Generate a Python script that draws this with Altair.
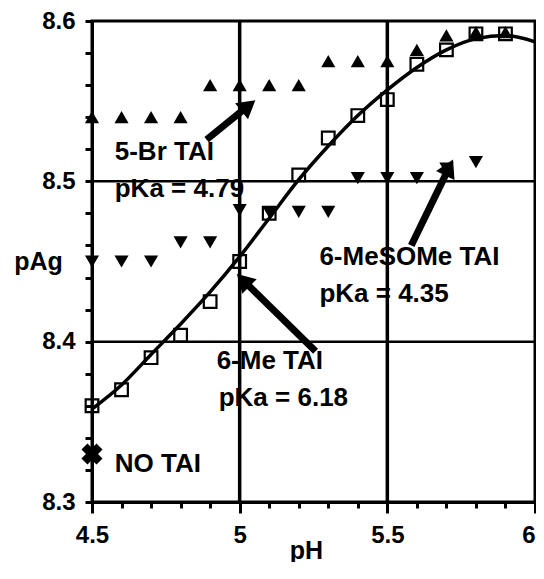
import math
import altair as alt
import pandas as pd

# ---- data ----
ph = [4.5, 4.6, 4.7, 4.8, 4.9, 5.0, 5.1, 5.2, 5.3, 5.4, 5.5, 5.6, 5.7, 5.8, 5.9]
br_tai = [8.54, 8.54, 8.54, 8.54, 8.56, 8.56, 8.56, 8.56, 8.575, 8.575, 8.575, 8.582, 8.591, 8.593, 8.593]
me_tai = [8.36, 8.37, 8.39, 8.404, 8.425, 8.45, 8.48, 8.504, 8.527, 8.541, 8.551, 8.573, 8.582, 8.592, 8.592]

mesome_ph = [4.5, 4.6, 4.7, 4.8, 4.9, 5.0, 5.1, 5.2, 5.3, 5.4, 5.5, 5.6, 5.7, 5.8]
mesome_tai = [8.45, 8.45, 8.45, 8.462, 8.462, 8.482, 8.481, 8.481, 8.481, 8.502, 8.502, 8.502, 8.508, 8.512]

fit_ph = [4.5, 4.6, 4.7, 4.8, 4.9, 5.0, 5.1, 5.2, 5.3, 5.4, 5.5, 5.6, 5.7, 5.8, 5.9, 6.0]
fit_pag = [8.358, 8.373, 8.392, 8.411, 8.431, 8.453, 8.477, 8.501, 8.522, 8.541, 8.557, 8.571, 8.582, 8.589, 8.591, 8.587]

no_tai_ph = [4.5]
no_tai_pag = [8.33]

label_text = ["5-Br TAI", "pKa = 4.79", "6-MeSOMe TAI", "pKa = 4.35", "6-Me TAI", "pKa = 6.18", "NO TAI"]
label_ph = [4.577, 4.577, 5.27, 5.27, 4.922, 4.929, 4.577]
label_pag = [8.518, 8.495, 8.453, 8.430, 8.388, 8.365, 8.324]

arrow_tail_ph = [4.888, 5.581, 5.257]
arrow_tail_pag = [8.526, 8.460, 8.394]
arrow_tip_ph = [5.022, 5.705, 5.019]
arrow_tip_pag = [8.546, 8.507, 8.437]

x_ticks = [4.5, 4.6, 4.7, 4.8, 4.9, 5.0, 5.1, 5.2, 5.3, 5.4, 5.5, 5.6, 5.7, 5.8, 5.9, 6.0]
y_ticks = [8.3, 8.32, 8.34, 8.36, 8.38, 8.4, 8.42, 8.44, 8.46, 8.48, 8.5, 8.52, 8.54, 8.56, 8.58, 8.6]
x_grid = [5.0, 5.5]
y_grid = [8.4, 8.5]

# ---- layout ----
W, H = 443, 481
X_DOM = [4.5, 6.0]
Y_DOM = [8.3, 8.6]
FONT = "Liberation Sans"

x_scale = alt.Scale(domain=X_DOM, nice=False, zero=False)
y_scale = alt.Scale(domain=Y_DOM, nice=False, zero=False)

x_axis = alt.Axis(
    values=x_ticks,
    labelExpr="abs(datum.value*2 - round(datum.value*2)) < 0.001 ? format(datum.value, '~g') : ''",
    labelAlign=alt.condition("datum.value > 5.95", alt.value("right"), alt.value("center")),
    tickSize=alt.condition("abs(datum.value*2 - round(datum.value*2)) < 0.001", alt.value(11), alt.value(6)),
    labelPadding=10,
    grid=False,
    title="pH",
    titleX=214,
    titleY=56,
    titleAlign="center",
    titleBaseline="alphabetic",
    labelFlush=False,
    labelOverlap=False,
)
y_axis = alt.Axis(
    values=y_ticks,
    labelExpr="abs(datum.value*10 - round(datum.value*10)) < 0.001 ? format(datum.value, '.1f') : ''",
    tickSize=7,
    labelPadding=10,
    grid=False,
    title="pAg",
    titleAngle=0,
    titleX=-54,
    titleY=248,
    titleAlign="center",
    titleBaseline="alphabetic",
    labelFlush=False,
    labelOverlap=False,
)

X = alt.X("ph:Q", scale=x_scale, axis=x_axis)
Y = alt.Y("pag:Q", scale=y_scale, axis=y_axis)

grid_v = alt.Chart(pd.DataFrame({"ph": x_grid})).mark_rule(color="black", strokeWidth=3.5).encode(x=X)
grid_h = alt.Chart(pd.DataFrame({"pag": y_grid})).mark_rule(color="black", strokeWidth=2.5).encode(y=Y)

curve = alt.Chart(pd.DataFrame({"ph": fit_ph, "pag": fit_pag})).mark_line(
    color="black", strokeWidth=3.5, interpolate="monotone"
).encode(x=X, y=Y)

squares = alt.Chart(pd.DataFrame({"ph": ph, "pag": me_tai})).mark_point(
    shape="square", size=160, filled=False, color="black", strokeWidth=2.2, opacity=1
).encode(x=X, y=Y)

up = alt.Chart(pd.DataFrame({"ph": ph, "pag": br_tai})).mark_point(
    shape="triangle-up", size=200, filled=True, color="black", opacity=1
).encode(x=X, y=Y)

down = alt.Chart(pd.DataFrame({"ph": mesome_ph, "pag": mesome_tai})).mark_point(
    shape="triangle-down", size=200, filled=True, color="black", opacity=1
).encode(x=X, y=Y)

cross = alt.Chart(pd.DataFrame({"ph": no_tai_ph, "pag": no_tai_pag})).mark_point(
    shape="cross", size=450, filled=True, color="black", opacity=1, angle=45
).encode(x=X, y=Y)

# arrows
px_per_x = W / (X_DOM[1] - X_DOM[0])
px_per_y = H / (Y_DOM[1] - Y_DOM[0])
angles = []
for x0, y0, x1, y1 in zip(arrow_tail_ph, arrow_tail_pag, arrow_tip_ph, arrow_tip_pag):
    dx = (x1 - x0) * px_per_x
    up_px = (y1 - y0) * px_per_y
    angles.append(math.degrees(math.atan2(dx, up_px)) % 360)

arrow_df = pd.DataFrame({
    "ph": arrow_tail_ph, "pag": arrow_tail_pag,
    "ph2": arrow_tip_ph, "pag2": arrow_tip_pag, "angle": angles,
})
shafts = alt.Chart(arrow_df).mark_rule(color="black", strokeWidth=7, strokeCap="butt").encode(
    x=X, y=Y, x2="ph2:Q", y2="pag2:Q"
)
heads = alt.Chart(arrow_df).mark_point(
    shape="triangle", size=420, filled=True, color="black", opacity=1
).encode(
    x=alt.X("ph2:Q", scale=x_scale, axis=x_axis),
    y=alt.Y("pag2:Q", scale=y_scale, axis=y_axis),
    angle=alt.Angle("angle:Q", scale=None),
)

texts = alt.Chart(pd.DataFrame({"ph": label_ph, "pag": label_pag, "t": label_text})).mark_text(
    align="left", baseline="middle", font=FONT, fontSize=26, fontWeight="bold", color="black"
).encode(x=X, y=Y, text="t:N")

chart = alt.layer(
    grid_v, grid_h, curve, squares, up, down, cross, shafts, heads, texts
).properties(
    width=W, height=H,
    autosize=alt.AutoSizeParams(type="none"),
    padding={"left": 84, "top": 13, "right": 1, "bottom": 60},
).configure_view(
    stroke="black", strokeWidth=3
).configure_axis(
    labelFont=FONT, labelFontSize=24, labelFontWeight="bold", labelColor="black",
    titleFont=FONT, titleFontSize=25, titleFontWeight="bold", titleColor="black",
    domainColor="black", domainWidth=3, tickColor="black", tickWidth=3,
)

chart.save("out.html", embed_options={"renderer": "svg", "actions": False})
